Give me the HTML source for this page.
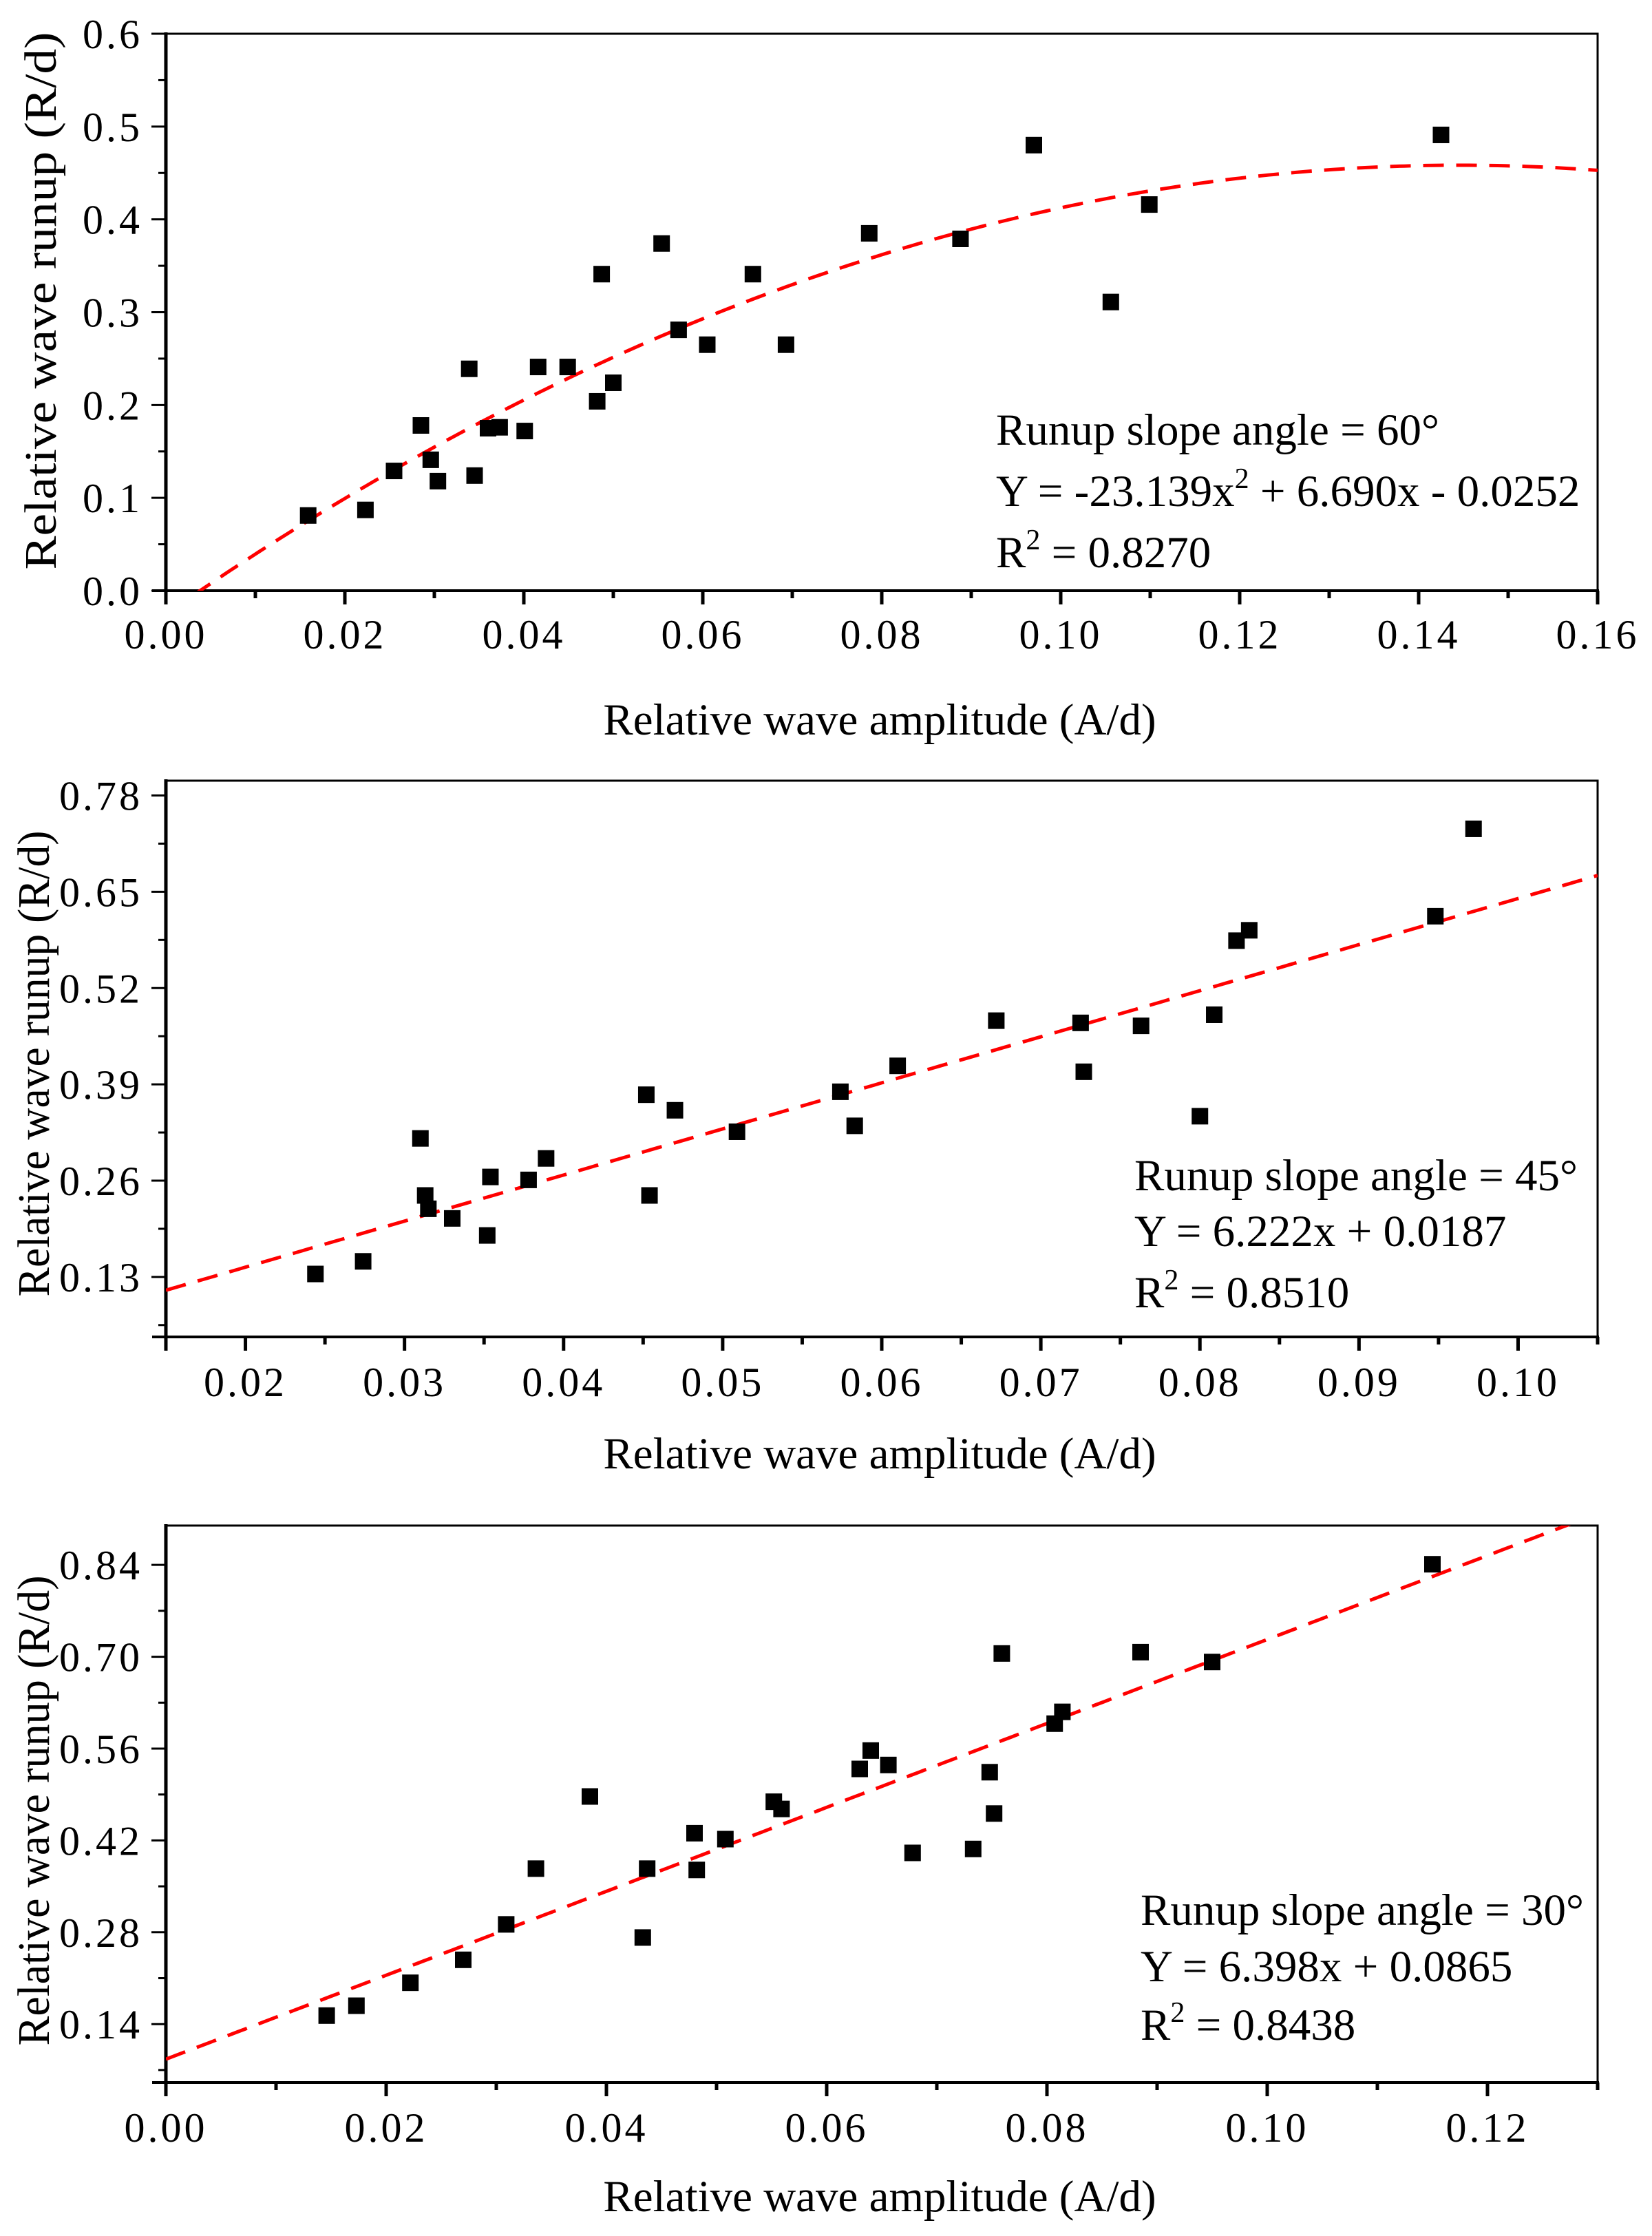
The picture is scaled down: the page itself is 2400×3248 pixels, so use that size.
<!DOCTYPE html>
<html><head><meta charset="utf-8"><style>
html,body{margin:0;padding:0;background:#fff}
svg{display:block}
text{font-family:"Liberation Serif",serif;fill:#000}
</style></head><body>
<svg id="chart" width="2400" height="3248" viewBox="0 0 2400 3248" xmlns="http://www.w3.org/2000/svg"></svg>
<script>
// Panel 1 (60°)
const x60 = [0.0159,0.0223,0.0255,0.0285,0.0296,0.0304,0.0339,0.0345,0.036,0.0373,0.0401,0.0416,0.0449,0.0482,0.0487,0.05,0.0554,0.0573,0.0605,0.0656,0.0693,0.0786,0.0888,0.097,0.1056,0.1099,0.1425];
const y60 = [0.081,0.087,0.129,0.178,0.141,0.118,0.239,0.124,0.175,0.176,0.172,0.241,0.241,0.204,0.341,0.224,0.374,0.281,0.265,0.341,0.265,0.385,0.379,0.480,0.311,0.416,0.491];
const fit60 = [-23.139,6.690,-0.0252];
const xt60 = ["0.00","0.02","0.04","0.06","0.08","0.10","0.12","0.14","0.16"];
const yt60 = ["0.0","0.1","0.2","0.3","0.4","0.5","0.6"];
// Panel 2 (45°)
const x45 = [0.0244,0.0274,0.031,0.0313,0.0315,0.033,0.0352,0.0354,0.0378,0.0389,0.0452,0.0454,0.047,0.0509,0.0574,0.0583,0.061,0.0672,0.0725,0.0727,0.0763,0.08,0.0809,0.0823,0.0831,0.0948,0.0972];
const y45 = [0.134,0.151,0.317,0.240,0.222,0.209,0.186,0.265,0.261,0.290,0.376,0.240,0.355,0.326,0.380,0.334,0.415,0.476,0.473,0.407,0.469,0.347,0.484,0.584,0.598,0.617,0.735];
const fit45 = [0,6.222,0.0187];
const xt45 = ["0.02","0.03","0.04","0.05","0.06","0.07","0.08","0.09","0.10"];
const yt45 = ["0.13","0.26","0.39","0.52","0.65","0.78"];
// Panel 3 (30°)
const x30 = [0.0146,0.0173,0.0222,0.027,0.0309,0.0336,0.0385,0.0433,0.0437,0.048,0.0482,0.0508,0.0552,0.0559,0.063,0.064,0.0656,0.0678,0.0733,0.0748,0.0752,0.0759,0.0807,0.0814,0.0885,0.095,0.115];
const y30 = [0.153,0.168,0.203,0.238,0.292,0.377,0.487,0.272,0.377,0.431,0.375,0.422,0.479,0.468,0.529,0.557,0.535,0.401,0.407,0.524,0.461,0.705,0.598,0.616,0.707,0.692,0.841];
const fit30 = [0,6.398,0.0865];
const xt30 = ["0.00","0.02","0.04","0.06","0.08","0.10","0.12"];
const yt30 = ["0.14","0.28","0.42","0.56","0.70","0.84"];

const NS="http://www.w3.org/2000/svg";
const svg=document.getElementById('chart');
function mk(tag,attrs,parent){const e=document.createElementNS(NS,tag);for(const k in attrs)e.setAttribute(k,attrs[k]);(parent||svg).appendChild(e);return e;}

const panels=[
 {id:'60',top:49,bot:858,xmin:0,xmax:0.16,ymin:0,ymax:0.6,xs:x60,ys:y60,fit:fit60,xt:xt60,yt:yt60,
  xtY:921,xtitleY:1046,ytitleX:60,ytCY:437,ytLen:781,
  leg:{x:1447,y:[625,714,803],l1:"Runup slope angle = 60°",l2a:"Y = -23.139x",l2b:" + 6.690x - 0.0252",l3:" = 0.8270"}},
 {id:'45',top:1134,bot:1942,xmin:0.015,xmax:0.105,ymin:0.049,ymax:0.80,xs:x45,ys:y45,fit:fit45,xt:xt45,yt:yt45,
  xtY:2007,xtitleY:2112,ytitleX:50,ytCY:1545,ytLen:677,
  leg:{x:1648,y:[1708,1789,1878],l1:"Runup slope angle = 45°",l2a:"Y = 6.222x + 0.0187",l2b:null,l3:" = 0.8510"}},
 {id:'30',top:2216,bot:3025,xmin:0,xmax:0.13,ymin:0.051,ymax:0.90,xs:x30,ys:y30,fit:fit30,xt:xt30,yt:yt30,
  xtY:3090,xtitleY:3191,ytitleX:50,ytCY:2630,ytLen:683,
  leg:{x:1657,y:[2775,2857,2942],l1:"Runup slope angle = 30°",l2a:"Y = 6.398x + 0.0865",l2b:null,l3:" = 0.8438"}}
];
const L=241,R=2321;
panels.forEach(p=>{
 const g=mk('g',{});
 
 
 const X=v=>L+(v-p.xmin)/(p.xmax-p.xmin)*(R-L);
 const Y=v=>p.bot-(v-p.ymin)/(p.ymax-p.ymin)*(p.bot-p.top);
 const fr=mk('rect',{x:L,y:p.top,width:R-L,height:p.bot-p.top,fill:'none',stroke:'#000','stroke-width':3},g);
 
 
 mk('line',{x1:L,y1:p.top-2,x2:L,y2:p.bot+20,stroke:'#000','stroke-width':5},g);
 mk('line',{x1:L-20,y1:p.bot,x2:R+2,y2:p.bot,stroke:'#000','stroke-width':4},g);
 const xv=p.xt.map(Number);
 const xstep=xv[1]-xv[0];
 xv.forEach((v,i)=>{
  const x=X(v);
  mk('line',{x1:x,y1:p.bot,x2:x,y2:p.bot+20,stroke:'#000','stroke-width':5},g);
  const t=mk('text',{x:x,y:p.xtY+21,'font-size':60,'letter-spacing':4,'text-anchor':'middle'},g);
  t.textContent=p.xt[i];
  
  
 });
 for(let v=xv[0]-xstep/2;v<=p.xmax+1e-9;v+=xstep){
  if(v<p.xmin-1e-9)continue;
  const x=X(v);
  mk('line',{x1:x,y1:p.bot,x2:x,y2:p.bot+11,stroke:'#000','stroke-width':5},g);
 }
 const yv=p.yt.map(Number);
 const ystep=yv[1]-yv[0];
 yv.forEach((v,i)=>{
  const y=Y(v);
  mk('line',{x1:L-21,y1:y,x2:L,y2:y,stroke:'#000','stroke-width':3},g);
  const t=mk('text',{x:L-34,y:y+21,'font-size':60,'letter-spacing':4,'text-anchor':'end'},g);
  t.textContent=p.yt[i];
  
  
 });
 for(let v=yv[0]-ystep/2;v<=p.ymax+1e-9;v+=ystep){
  if(v<p.ymin-1e-9)continue;
  const y=Y(v);
  mk('line',{x1:L-11,y1:y,x2:L,y2:y,stroke:'#000','stroke-width':3},g);
 }
 const xt=mk('text',{x:1278,y:p.xtitleY+21,'font-size':65,'text-anchor':'middle'},g);
 xt.textContent='Relative wave amplitude (A/d)';
 
 
 const yt=mk('text',{x:-p.ytLen/2,y:0,'font-size':66,textLength:p.ytLen,lengthAdjust:'spacingAndGlyphs',transform:`translate(${p.ytitleX+21},${p.ytCY}) rotate(-90)`},g);
 yt.textContent='Relative wave runup (R/d)';
 
 
 const cp=mk('clipPath',{id:'clip'+p.id},g);
 mk('rect',{x:L,y:p.top,width:R-L,height:p.bot-p.top},cp);
 const f=v=>p.fit[0]*v*v+p.fit[1]*v+p.fit[2];
 let d='';const N=200;
 for(let i=0;i<=N;i++){const v=p.xmin+(p.xmax-p.xmin)*i/N;d+=(i?'L':'M')+X(v).toFixed(1)+','+Y(f(v)).toFixed(1);}
 const fl=mk('path',{d:d,fill:'none',stroke:'#ff0000','stroke-width':5,'stroke-dasharray':'30 18','clip-path':`url(#clip${p.id})`},g);
 
 
 p.xs.forEach((v,i)=>{
  const r=mk('rect',{x:X(v)-12,y:Y(p.ys[i])-12,width:24,height:24,fill:'#000'},g);
  
  
 });
 const lg=mk('g',{},g);
 
 
 const fs=65;
 const t1=mk('text',{x:p.leg.x,y:p.leg.y[0]+21,'font-size':fs},lg);t1.textContent=p.leg.l1;
 const t2=mk('text',{x:p.leg.x,y:p.leg.y[1]+21,'font-size':fs},lg);
 t2.appendChild(document.createTextNode(p.leg.l2a));
 if(p.leg.l2b){const s=mk('tspan',{dy:-26,'font-size':42},t2);s.textContent='2';const s2=mk('tspan',{dy:26},t2);s2.textContent=p.leg.l2b;}
 const t3=mk('text',{x:p.leg.x,y:p.leg.y[2]+21,'font-size':fs},lg);
 t3.appendChild(document.createTextNode('R'));
 const s3=mk('tspan',{dy:-26,'font-size':42},t3);s3.textContent='2';
 const s4=mk('tspan',{dy:26},t3);s4.textContent=p.leg.l3;
});
</script>
</body></html>
